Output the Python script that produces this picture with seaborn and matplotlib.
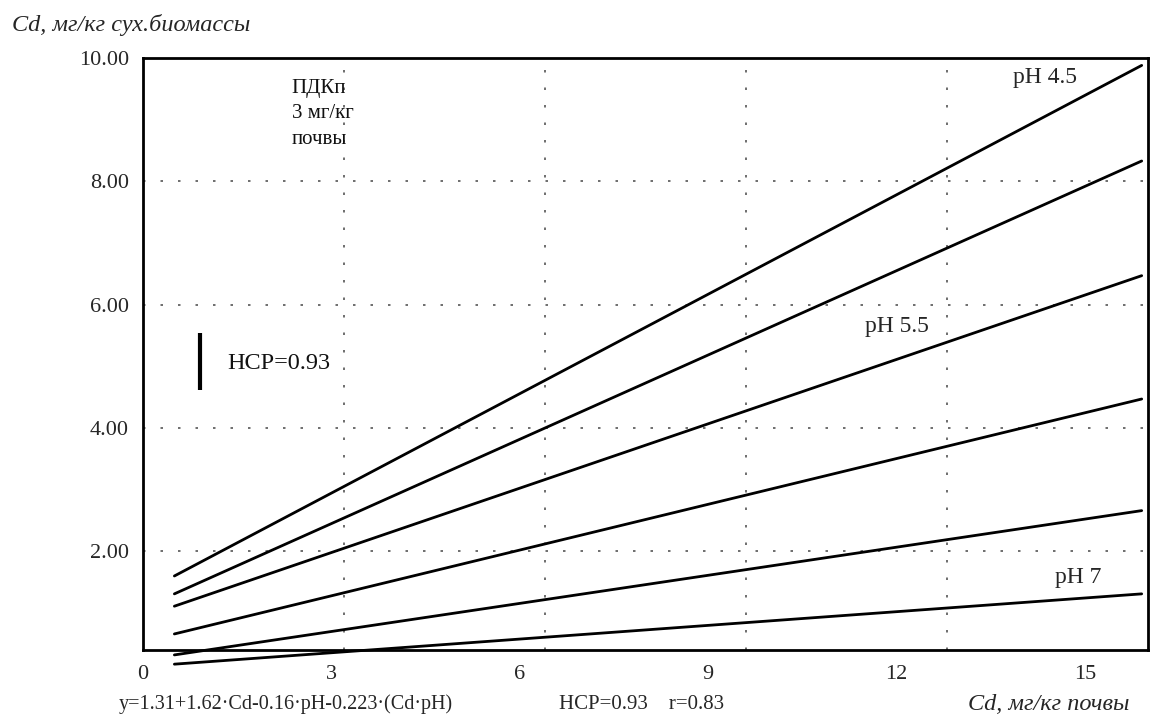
import matplotlib
matplotlib.use("Agg")
import matplotlib.pyplot as plt
import numpy as np
import pandas as pd
import seaborn as sns

# Regression lines of Cd in dry biomass vs. Cd in soil, one per soil pH
ph_levels = [4.5, 5.0, 5.5, 6.0, 6.5, 7.0]
cd_soil = [0.5, 15.9]
cd_bio_start = [1.60, 1.31, 1.11, 0.66, 0.32, 0.17]
cd_bio_end = [9.88, 8.33, 6.47, 4.47, 2.66, 1.31]

x_ticks = [0, 3, 6, 9, 12, 15]
y_ticks = [2, 4, 6, 8, 10]
x_grid = [3.2, 6.4, 9.6, 12.8]
y_grid = [2, 4, 6, 8]

lsd_value = 0.93
r_value = 0.83

rows = []
for ph, y0, y1 in zip(ph_levels, cd_bio_start, cd_bio_end):
    rows.append({"pH": ph, "Cd": cd_soil[0], "y": y0})
    rows.append({"pH": ph, "Cd": cd_soil[1], "y": y1})
df = pd.DataFrame(rows)

sns.set_theme(style="white")
serif = ["Liberation Serif", "DejaVu Serif"]
plt.rcParams["font.family"] = serif

fig = plt.figure(figsize=(11.52, 7.16), dpi=100)
ax = fig.add_axes([0.1241, 0.0922, 0.8724, 0.8268])

sns.lineplot(data=df, x="Cd", y="y", hue="pH", units="pH", estimator=None,
             palette=["black"] * len(ph_levels), linewidth=2.0, legend=False,
             ax=ax)
for ln in ax.get_lines():
    ln.set_clip_on(False)

ax.set_xlim(0, 16)
ax.set_ylim(0.4, 10)

ax.set_xticks(x_ticks)
ax.set_xticklabels([str(v) for v in x_ticks], fontsize=16)
ax.set_yticks(y_ticks)
ax.set_yticklabels([f"{v:.2f}" for v in y_ticks], fontsize=16)
ax.tick_params(axis="both", which="major", length=0)
ax.tick_params(axis="x", which="major", pad=11)
ax.tick_params(axis="y", which="major", pad=10)

ax.set_xticks(x_grid, minor=True)
ax.set_yticks(y_grid, minor=True)
ax.tick_params(axis="both", which="minor", length=4, width=1.0,
               color="#333333", direction="out")
ax.grid(False)
for gx in x_grid:
    ax.axvline(gx, color="#555555", linewidth=1.2,
               linestyle=(0, (1.5, 9)), zorder=0)
for gy in y_grid:
    ax.axhline(gy, color="#555555", linewidth=1.2,
               linestyle=(0, (1.5, 9)), zorder=0)

for side in ["left", "right", "top", "bottom"]:
    ax.spines[side].set_visible(True)
    ax.spines[side].set_color("black")
    ax.spines[side].set_linewidth(2.0)

ax.set_xlabel("")
ax.set_ylabel("")

# Threshold note
ax.text(2.37, 9.66, "ПДКп\n3 мг/кг\nпочвы", ha="left", va="top",
        fontsize=15, linespacing=1.45, color="#111111")

# LSD bar
bar_x = 0.91
bar_mid = 5.08
ax.plot([bar_x, bar_x], [bar_mid - lsd_value / 2, bar_mid + lsd_value / 2],
        color="black", linewidth=3.0, solid_capstyle="butt")
ax.text(1.34, 5.05, f"НСР={lsd_value:.2f}", ha="left", va="center",
        fontsize=17.5, color="#111111")

# Line labels
ax.text(13.85, 9.69, "pH 4.5", ha="left", va="center", fontsize=17)
ax.text(11.5, 5.64, "pH 5.5", ha="left", va="center", fontsize=17)
ax.text(14.52, 1.58, "pH 7", ha="left", va="center", fontsize=17)

# Axis titles and regression equation
fig.text(0.0104, 0.965, "Cd, мг/кг сух.биомассы", ha="left", va="center",
         fontsize=17.5, style="italic")
fig.text(0.840, 0.0160, "Cd, мг/кг почвы", ha="left", va="center",
         fontsize=17.5, style="italic")
fig.text(0.103, 0.0160, "y=1.31+1.62·Cd-0.16·pH-0.223·(Cd·pH)", ha="left",
         va="center", fontsize=14.5)
fig.text(0.485, 0.0160, f"НСР={lsd_value:.2f}    r={r_value:.2f}", ha="left",
         va="center", fontsize=15)

fig.savefig("out.png", dpi=100, facecolor="white")
